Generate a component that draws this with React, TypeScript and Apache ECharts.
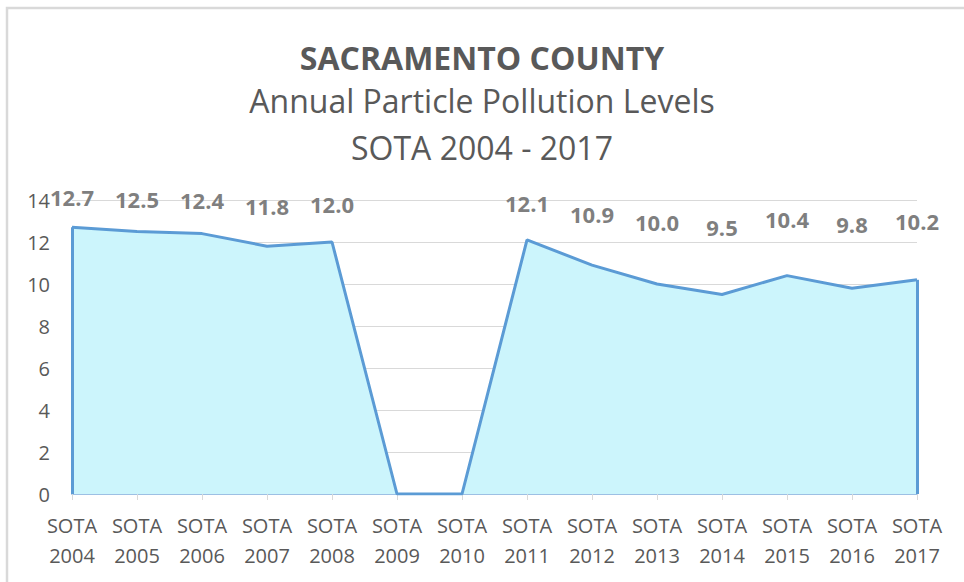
import React, { useEffect, useRef } from "react";
import * as echarts from "echarts";

const years: string[] = ["2004", "2005", "2006", "2007", "2008", "2009", "2010", "2011", "2012", "2013", "2014", "2015", "2016", "2017"];
const levels: number[] = [12.7, 12.5, 12.4, 11.8, 12.0, 0, 0, 12.1, 10.9, 10.0, 9.5, 10.4, 9.8, 10.2];
const yTicks = { min: 0, max: 14, interval: 2 };
const titleLines: string[] = ["SACRAMENTO COUNTY", "Annual Particle Pollution Levels", "SOTA 2004 - 2017"];

const FONT = "'Open Sans', 'DejaVu Sans', sans-serif";
const TEXT_GRAY = "#595959";

export default function App() {
  const ref = useRef<HTMLDivElement>(null);

  useEffect(() => {
    if (!ref.current) return;
    const chart = echarts.init(ref.current, null, { renderer: "svg" });
    const maxVal = Math.max(...levels);
    const lastIdx = years.length - 1;

    const titleStyle = (bold: boolean) => ({
      fontFamily: FONT,
      fontSize: 32,
      fontWeight: bold ? "bold" : "normal",
      color: TEXT_GRAY,
      lineHeight: 40,
    });

    const option: any = {
      animation: false,
      backgroundColor: "#ffffff",
      textStyle: { fontFamily: FONT },
      title: [
        { text: titleLines[0], left: "center", top: 37, padding: 0, textStyle: titleStyle(true) },
        { text: titleLines[1], left: "center", top: 80, padding: 0, textStyle: titleStyle(false) },
        { text: titleLines[2], left: "center", top: 127, padding: 0, textStyle: titleStyle(false) },
      ],
      graphic: [
        {
          type: "rect",
          shape: { x: 7, y: 8, width: 1000, height: 1000 },
          style: { fill: "none", stroke: "#d9d9d9", lineWidth: 2.5 },
          silent: true,
          z: -1,
        },
      ],
      grid: { left: 72, right: 47, top: 200, bottom: 88, containLabel: false },
      xAxis: {
        type: "category",
        data: years,
        boundaryGap: false,
        axisLine: { show: true, lineStyle: { color: "#9dc0e4", width: 2 } },
        axisTick: { show: true, length: 6, lineStyle: { color: "#d9d9d9", width: 1 } },
        axisLabel: {
          interval: 0,
          margin: 16,
          color: TEXT_GRAY,
          fontFamily: FONT,
          fontSize: 20,
          lineHeight: 30,
          formatter: (y: string) => "SOTA\n" + y,
        },
        splitLine: { show: false },
      },
      yAxis: {
        type: "value",
        min: yTicks.min,
        max: yTicks.max,
        interval: yTicks.interval,
        axisLine: { show: false },
        axisTick: { show: false },
        axisLabel: { margin: 22, color: TEXT_GRAY, fontFamily: FONT, fontSize: 20 },
        splitLine: { show: true, lineStyle: { color: "#d9d9d9", width: 1 } },
      },
      series: [
        {
          type: "line",
          data: levels.map((v) => ({
            value: v,
            label: { distance: 19 + (maxVal - v) * 11.7 },
          })),
          symbol: "circle",
          symbolSize: 0.01,
          showSymbol: true,
          lineStyle: { color: "#5b9bd5", width: 3 },
          itemStyle: { color: "#5b9bd5" },
          areaStyle: { color: "#ccf5fc", opacity: 1 },
          label: {
            show: true,
            position: "top",
            color: "#7f7f7f",
            fontFamily: FONT,
            fontWeight: "bold",
            fontSize: 22,
            formatter: (p: any) => (p.value === 0 ? "" : Number(p.value).toFixed(1)),
          },
          labelLayout: { hideOverlap: false },
          markLine: {
            silent: true,
            symbol: "none",
            label: { show: false },
            lineStyle: { color: "#5b9bd5", width: 3, type: "solid" },
            data: [
              [{ coord: [years[0], 0] }, { coord: [years[0], levels[0]] }],
              [{ coord: [years[lastIdx], 0] }, { coord: [years[lastIdx], levels[lastIdx]] }],
            ],
          },
        },
      ],
    };

    chart.setOption(option);
    return () => chart.dispose();
  }, []);

  return (
    <div
      ref={ref}
      style={{ position: "absolute", left: 0, top: 0, width: 964, height: 582 }}
    />
  );
}
